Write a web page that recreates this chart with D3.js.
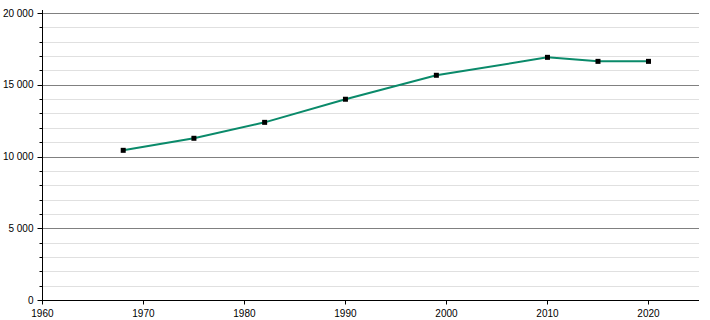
<!DOCTYPE html>
<html><head><meta charset="utf-8">
<script src="https://cdn.jsdelivr.net/npm/d3@7"></script>
<style>body{margin:0;background:#fff}svg{display:block}text{font-family:"Liberation Sans",Arial,sans-serif;font-size:10px;fill:#000}</style>
</head><body><svg id="c" width="710" height="320"></svg>
<script>
const years = [1968, 1975, 1982, 1990, 1999, 2010, 2015, 2020];
const population = [10430, 11270, 12380, 13990, 15660, 16910, 16630, 16630];
const xTicks = [1960, 1970, 1980, 1990, 2000, 2010, 2020];
const yMajor = [0, 5000, 10000, 15000, 20000];
const yMinor = [1000,2000,3000,4000,6000,7000,8000,9000,11000,12000,13000,14000,16000,17000,18000,19000];

const svg = d3.select("#c");
const x = d3.scaleLinear().domain([1960, 2025]).range([42.4, 699]);
const y = d3.scaleLinear().domain([0, 20000]).range([300, 13]);
const fmt = v => d3.format(",")(v).replace(/,/g, " ");

svg.append("g").selectAll("line").data(yMinor).join("line")
  .attr("x1", 42).attr("x2", 699).attr("y1", d => Math.round(y(d))+0.5).attr("y2", d => Math.round(y(d))+0.5)
  .attr("stroke", "#e0e0e0").attr("stroke-width", 1);
svg.append("g").selectAll("line").data(yMajor.filter(d=>d>0)).join("line")
  .attr("x1", 42).attr("x2", 699).attr("y1", d => Math.round(y(d))+0.5).attr("y2", d => Math.round(y(d))+0.5)
  .attr("stroke", "#808080").attr("stroke-width", 1);

// y axis
const ya = svg.append("g").attr("transform", "translate(42.5,0)");
ya.append("line").attr("x1",0).attr("x2",0).attr("y1",10).attr("y2",300).attr("stroke","#000");
ya.selectAll("line.mn").data(yMinor).join("line").attr("class","mn")
  .attr("x1",-3).attr("x2",0).attr("y1",d=>Math.round(y(d))+0.5).attr("y2",d=>Math.round(y(d))+0.5).attr("stroke","#000");
ya.selectAll("line.mj").data(yMajor).join("line").attr("class","mj")
  .attr("x1",-5).attr("x2",0).attr("y1",d=>Math.round(y(d))+0.5).attr("y2",d=>Math.round(y(d))+0.5).attr("stroke","#000");
ya.selectAll("text").data(yMajor).join("text")
  .attr("x",-9).attr("y",d=>y(d)).attr("dy","0.35em").attr("text-anchor","end").text(fmt);

// x axis
const xa = svg.append("g").attr("transform","translate(0,300.5)");
xa.append("line").attr("x1",38).attr("x2",699).attr("y1",0).attr("y2",0).attr("stroke","#000");
xa.selectAll("line.t").data(xTicks).join("line").attr("class","t")
  .attr("x1",d=>Math.round(x(d))+0.5).attr("x2",d=>Math.round(x(d))+0.5).attr("y1",0).attr("y2",4).attr("stroke","#000");
xa.selectAll("text").data(xTicks).join("text")
  .attr("x",d=>x(d)).attr("y",16).attr("text-anchor","middle").text(d=>d);

// line
const line = d3.line().x((d,i)=>x(years[i])).y(d=>y(d));
svg.append("path").datum(population).attr("d", line).attr("fill","none")
  .attr("stroke","#0a8a6a").attr("stroke-width",2);
svg.append("g").selectAll("rect").data(population).join("rect")
  .attr("x",(d,i)=>x(years[i])-2.5).attr("y",d=>y(d)-2.5).attr("width",5).attr("height",5).attr("fill","#000");
</script></body></html>
